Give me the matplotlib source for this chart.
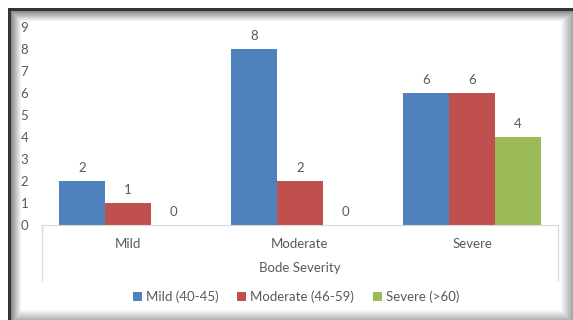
import numpy as np
import matplotlib.pyplot as plt
from matplotlib.lines import Line2D

categories = ["Mild", "Moderate", "Severe"]
series_names = ["Mild (40-45)", "Moderate (46-59)", "Severe (>60)"]
mild_vals = [2, 8, 6]
moderate_vals = [1, 2, 6]
severe_vals = [0, 0, 4]
colors = ["#4F81BD", "#C0504D", "#9BBB59"]
text_color = "#595959"

plt.rcParams["font.family"] = ["Lato", "DejaVu Sans"]
fs = 9.5

W, H = 573, 320
fig = plt.figure(figsize=(W / 100, H / 100), dpi=100)

# frame with shadowed edges
bg = fig.add_axes([0, 0, 1, 1], zorder=-10)
bg.axis("off")
xx, yy = np.meshgrid(np.arange(W), np.arange(H))
img = np.ones((H, W))
inside = (xx >= 8) & (yy >= 8)
# dark border line on left and top
img[(xx >= 8) & (xx <= 10) & (yy >= 8)] = 0.2
img[(yy >= 8) & (yy <= 10) & (xx >= 8)] = 0.2
# inner shadow next to the dark line
sh_left = np.clip((xx - 11) / 10.0, 0, 1)
sh_top = np.clip((yy - 11) / 10.0, 0, 1)
sh_right = np.clip((W - 1 - xx) / 12.0, 0, 1)
sh_bot = np.clip((H - 1 - yy) / 10.0, 0, 1)
shade = 1 - 0.45 * (1 - sh_left)
shade = np.minimum(shade, 1 - 0.45 * (1 - sh_top))
shade = np.minimum(shade, 1 - 0.35 * (1 - sh_right))
shade = np.minimum(shade, 1 - 0.3 * (1 - sh_bot))
mask = (xx >= 11) & (yy >= 11)
img[mask] = shade[mask]
img[~inside] = 1.0
bg.imshow(img, cmap="gray", vmin=0, vmax=1, extent=[0, W, H, 0], aspect="auto",
          interpolation="nearest")
bg.set_xlim(0, W)
bg.set_ylim(H, 0)

ax = fig.add_axes([42 / W, 1 - 225 / H, (558 - 42) / W, (225 - 27) / H])
ax.patch.set_alpha(0)

x = np.arange(len(categories))
width = 0.267
for i, (vals, name) in enumerate(zip([mild_vals, moderate_vals, severe_vals], series_names)):
    pos = x + (i - 1) * width
    bars = ax.bar(pos, vals, width, color=colors[i], label=name)
    for b, v in zip(bars, vals):
        ax.annotate(str(v), (b.get_x() + b.get_width() / 2, v), xytext=(0, 5),
                    textcoords="offset points", ha="center", va="bottom",
                    color=text_color, fontsize=fs)

ax.set_xlim(-0.5, 2.5)
ax.set_ylim(0, 9)
ax.set_yticks(range(10))
ax.set_xticks(x)
ax.set_xticklabels(categories)
ax.tick_params(axis="y", length=0, pad=10, colors=text_color, labelsize=fs)
ax.tick_params(axis="x", length=0, pad=9, colors=text_color, labelsize=fs)
for s in ["top", "right", "left"]:
    ax.spines[s].set_visible(False)
ax.spines["bottom"].set_color("#D9D9D9")
ax.set_xlabel("Bode Severity", color=text_color, fontsize=fs, labelpad=9)

# box lines around the category axis area
for xa in (0, 1):
    ax.add_line(Line2D([xa, xa], [0, -0.28], transform=ax.transAxes, color="#D9D9D9",
                       lw=1, clip_on=False))

fig.legend(loc="center", bbox_to_anchor=(296 / W, 1 - 297 / H), ncol=3, frameon=False,
           fontsize=fs, labelcolor=text_color, handlelength=0.7, handleheight=0.7,
           handletextpad=0.3, columnspacing=1.4)

fig.savefig("out.png", dpi=100)
